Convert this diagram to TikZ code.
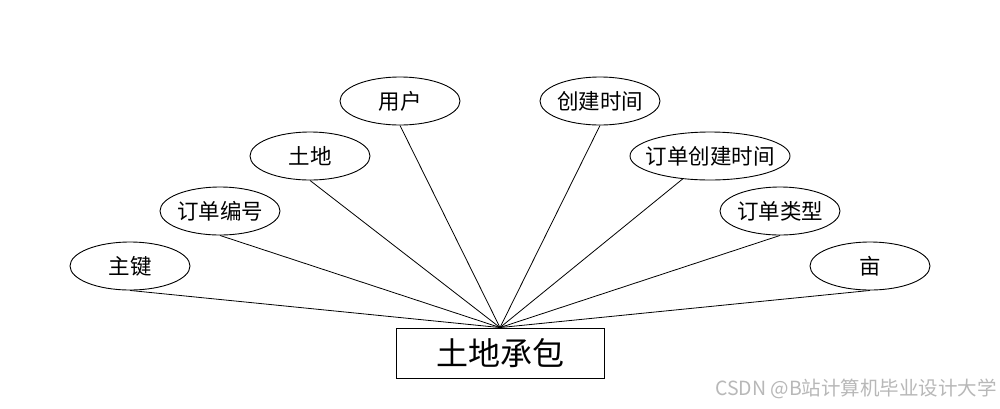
\documentclass[tikz,border=0pt]{standalone}
\usepackage{fontspec}
\setmainfont{Noto Sans CJK SC}
\usetikzlibrary{shapes.geometric}
\newcommand\zwbox[1]{\makebox[0pt]{#1}}
\begin{document}
\begin{tikzpicture}[x=1pt,y=-1pt,
  attr/.style={draw=black,line width=0.9pt,ellipse,minimum width=120pt,minimum height=48pt,inner sep=0pt,font=\fontsize{21.5}{21.5}\selectfont},
  ent/.style={draw=black,line width=0.9pt,rectangle,minimum width=208pt,minimum height=50pt,inner sep=0pt,font=\fontsize{32}{32}\selectfont},
  link/.style={draw=black,line width=0.8pt}]
\useasboundingbox[fill=white] (0,0) rectangle (1000,408);
\node[ent] (e) at (500,353) {土地承包};
\node[attr] (a1) at (130,266) {\zwbox{主键}};
\node[attr] (a2) at (220,211) {\zwbox{订单编号}};
\node[attr] (a3) at (310,156) {\zwbox{土地}};
\node[attr] (a4) at (400,101) {\zwbox{用户}};
\node[attr] (a5) at (600,101) {\zwbox{创建时间}};
\node[attr,minimum width=160pt] (a6) at (710,156) {\zwbox{订单创建时间}};
\node[attr] (a7) at (780,211) {\zwbox{订单类型}};
\node[attr] (a8) at (870,266) {\zwbox{亩}};
\foreach \a in {a1,a2,a3,a4,a5,a7,a8} \draw[link] (\a.south) -- (e.north);
\draw[link] (a6.220) -- (e.north);
\node[anchor=east,text=black!28,font=\fontsize{19.5}{19.5}\selectfont,inner sep=0pt] (wm) at (997,389) {CSDN @B站计算机毕业设计大学};
\end{tikzpicture}
\end{document}
